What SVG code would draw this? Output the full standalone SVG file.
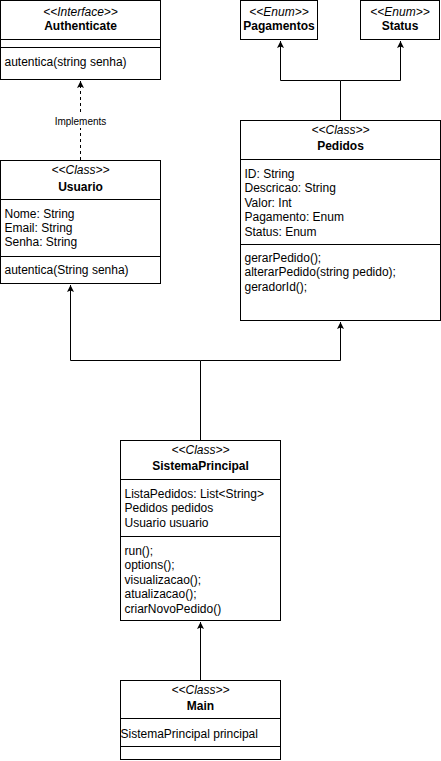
<svg xmlns="http://www.w3.org/2000/svg" width="441" height="761" viewBox="0 0 441 761">
<defs>
<style>
.box{fill:#fff;stroke:#000;stroke-width:1}
.div{stroke:#000;stroke-width:1;fill:none}
.st{font-family:"Liberation Sans",Arial,sans-serif;font-size:12px;font-style:italic;text-anchor:middle}
.ti{font-family:"Liberation Sans",Arial,sans-serif;font-size:12px;font-weight:bold;text-anchor:middle}
.tx{font-family:"Liberation Sans",Arial,sans-serif;font-size:12px}
.ln{stroke:#000;stroke-width:1;fill:none}
.lbl{font-family:"Liberation Sans",Arial,sans-serif;font-size:10px;text-anchor:middle}
</style>
<marker id="arr" markerWidth="8" markerHeight="8" refX="7" refY="3.5" orient="auto" markerUnits="userSpaceOnUse">
<path d="M0,0 L7,3.5 L0,7 L1.5,3.5 z" fill="#000"/>
</marker>
</defs>
<g id="connectors">
<path class="ln" d="M80.5,160 L80.5,81" stroke-dasharray="3,3" marker-end="url(#arr)"/>
<rect x="52" y="115" width="56" height="13" fill="#fff"/>
<text class="lbl" x="80.5" y="125">Implements</text>
<path class="ln" d="M340.5,120 L340.5,80.5 L280.5,80.5 L280.5,41" marker-end="url(#arr)"/>
<path class="ln" d="M340.5,80.5 L400.5,80.5 L400.5,41" marker-end="url(#arr)"/>
<path class="ln" d="M200.5,440 L200.5,360.5 L70.5,360.5 L70.5,285" marker-end="url(#arr)"/>
<path class="ln" d="M200.5,360.5 L340.5,360.5 L340.5,322" marker-end="url(#arr)"/>
<path class="ln" d="M200.5,680 L200.5,622" marker-end="url(#arr)"/>
</g>
<g id="Authenticate">
<rect class="box" x="0.5" y="0.5" width="160" height="79"/>
<text class="st" x="80.5" y="16">&lt;&lt;Interface&gt;&gt;</text>
<text class="ti" x="80.5" y="30">Authenticate</text>
<path class="div" d="M0.5,39.5 H160.5 M0.5,47.5 H160.5"/>
<text class="tx" x="4.5" y="66">autentica(string senha)</text>
</g>
<g id="Pagamentos">
<rect class="box" x="240.5" y="0.5" width="77" height="39"/>
<text class="st" x="279" y="16">&lt;&lt;Enum&gt;&gt;</text>
<text class="ti" x="279" y="30">Pagamentos</text>
</g>
<g id="Status">
<rect class="box" x="360.5" y="0.5" width="79" height="39"/>
<text class="st" x="400" y="16">&lt;&lt;Enum&gt;&gt;</text>
<text class="ti" x="400" y="30">Status</text>
</g>
<g id="Usuario">
<rect class="box" x="0.5" y="160.5" width="160" height="123"/>
<text class="st" x="80.5" y="174">&lt;&lt;Class&gt;&gt;</text>
<text class="ti" x="80.5" y="191">Usuario</text>
<path class="div" d="M0.5,199.5 H160.5 M0.5,256.5 H160.5"/>
<text class="tx" x="4.5" y="218">Nome: String</text>
<text class="tx" x="4.5" y="232">Email: String</text>
<text class="tx" x="4.5" y="246">Senha: String</text>
<text class="tx" x="4.5" y="274">autentica(String senha)</text>
</g>
<g id="Pedidos">
<rect class="box" x="240.5" y="120.5" width="200" height="200"/>
<text class="st" x="340.5" y="134">&lt;&lt;Class&gt;&gt;</text>
<text class="ti" x="340.5" y="150">Pedidos</text>
<path class="div" d="M240.5,159.5 H440.5 M240.5,244.5 H440.5"/>
<text class="tx" x="244.5" y="178">ID: String</text>
<text class="tx" x="244.5" y="192">Descricao: String</text>
<text class="tx" x="244.5" y="207">Valor: Int</text>
<text class="tx" x="244.5" y="221">Pagamento: Enum</text>
<text class="tx" x="244.5" y="236">Status: Enum</text>
<text class="tx" x="244.5" y="262">gerarPedido();</text>
<text class="tx" x="244.5" y="276">alterarPedido(string pedido);</text>
<text class="tx" x="244.5" y="291">geradorId();</text>
</g>
<g id="SistemaPrincipal">
<rect class="box" x="120.5" y="440.5" width="160" height="180"/>
<text class="st" x="200.5" y="454">&lt;&lt;Class&gt;&gt;</text>
<text class="ti" x="200.5" y="470">SistemaPrincipal</text>
<path class="div" d="M120.5,479.5 H280.5 M120.5,536.5 H280.5"/>
<text class="tx" x="124.5" y="498">ListaPedidos: List&lt;String&gt;</text>
<text class="tx" x="124.5" y="512">Pedidos pedidos</text>
<text class="tx" x="124.5" y="527">Usuario usuario</text>
<text class="tx" x="124.5" y="555">run();</text>
<text class="tx" x="124.5" y="569">options();</text>
<text class="tx" x="124.5" y="584">visualizacao();</text>
<text class="tx" x="124.5" y="598">atualizacao();</text>
<text class="tx" x="124.5" y="613">criarNovoPedido()</text>
</g>
<g id="Main">
<rect class="box" x="120.5" y="680.5" width="160" height="79"/>
<text class="st" x="200.5" y="694">&lt;&lt;Class&gt;&gt;</text>
<text class="ti" x="200.5" y="710">Main</text>
<path class="div" d="M120.5,718.5 H280.5 M120.5,746.5 H280.5"/>
<text class="tx" x="120.5" y="738">SistemaPrincipal principal</text>
</g>
</svg>
